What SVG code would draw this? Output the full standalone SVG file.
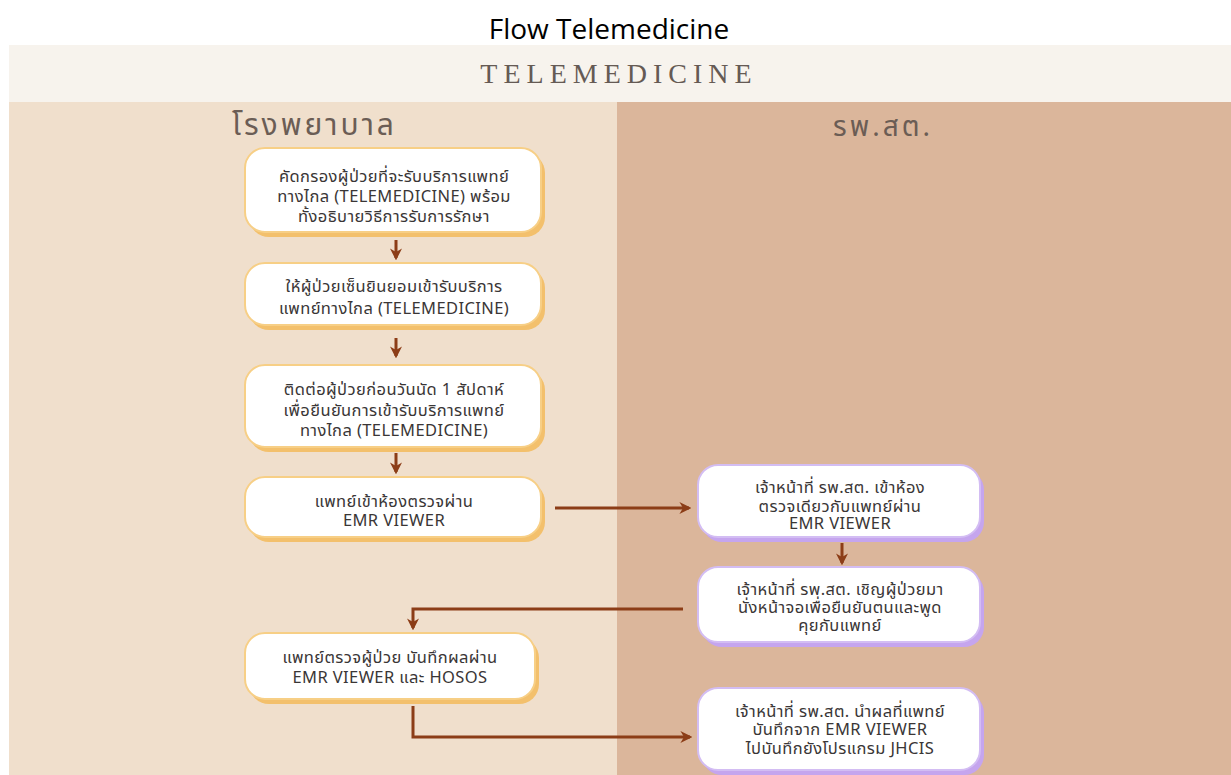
<svg xmlns="http://www.w3.org/2000/svg" width="1231" height="775" viewBox="0 0 1231 775">
<defs>
<style>
.t{font-family:"Noto Sans Thai","Noto Sans","DejaVu Sans",sans-serif;font-size:16.5px;letter-spacing:0.4px;fill:#3a3636;text-anchor:middle}
.h{font-family:"Noto Sans Thai","Noto Sans","DejaVu Sans",sans-serif;fill:#6b5d55;letter-spacing:3px}
.box{fill:#ffffff}
.shL{fill:#f3c06c}
.stL{fill:none;stroke:#f7cf86;stroke-width:2}
.shR{fill:#c5a5ee}
.stR{fill:none;stroke:#d3bdf3;stroke-width:2}
.c{fill:none;stroke:#8c3d17;stroke-width:3}
</style>
<marker id="ah" viewBox="0 0 10 10" refX="8" refY="5" markerWidth="4" markerHeight="4" orient="auto" markerUnits="strokeWidth">
<path d="M0,0 L10,5 L0,10 L3,5 Z" fill="#8c3d17"/>
</marker>
</defs>
<rect width="1231" height="775" fill="#ffffff"/>
<text x="609" y="39" font-family="'Open Sans','Noto Sans',sans-serif" font-size="28" fill="#000" text-anchor="middle">Flow Telemedicine</text>
<rect x="9" y="45" width="1222" height="57" fill="#f7f3ed"/>
<text x="619" y="83" font-family="'Liberation Serif',serif" font-size="28" fill="#655a54" text-anchor="middle" letter-spacing="6">TELEMEDICINE</text>
<rect x="9" y="102" width="608" height="673" fill="#f0dfcc"/>
<rect x="617" y="102" width="614" height="673" fill="#dbb69b"/>
<text class="h" x="232" y="135" font-size="30">โรงพยาบาล</text>
<text class="h" x="883" y="136" font-size="28" text-anchor="middle">รพ.สต.</text>

<g id="n1">
<rect class="shL" x="249" y="153" width="296" height="84" rx="20"/>
<rect class="box" x="245" y="148" width="296" height="84" rx="20"/>
<rect class="stL" x="245" y="148" width="296" height="84" rx="20"/>
<text class="t" x="394" y="182">คัดกรองผู้ป่วยที่จะรับบริการแพทย์</text>
<text class="t" x="394" y="202">ทางไกล (TELEMEDICINE) พร้อม</text>
<text class="t" x="394" y="222">ทั้งอธิบายวิธีการรับการรักษา</text>
</g>
<g id="n2">
<rect class="shL" x="249" y="268" width="296" height="62" rx="20"/>
<rect class="box" x="245" y="263" width="296" height="62" rx="20"/>
<rect class="stL" x="245" y="263" width="296" height="62" rx="20"/>
<text class="t" x="394" y="292">ให้ผู้ป่วยเซ็นยินยอมเข้ารับบริการ</text>
<text class="t" x="394" y="314">แพทย์ทางไกล (TELEMEDICINE)</text>
</g>
<g id="n3">
<rect class="shL" x="249" y="370" width="296" height="82" rx="20"/>
<rect class="box" x="245" y="365" width="296" height="82" rx="20"/>
<rect class="stL" x="245" y="365" width="296" height="82" rx="20"/>
<text class="t" x="394" y="395">ติดต่อผู้ป่วยก่อนวันนัด 1 สัปดาห์</text>
<text class="t" x="394" y="416">เพื่อยืนยันการเข้ารับบริการแพทย์</text>
<text class="t" x="394" y="436">ทางไกล (TELEMEDICINE)</text>
</g>
<g id="n4">
<rect class="shL" x="249" y="482" width="296" height="60" rx="20"/>
<rect class="box" x="245" y="477" width="296" height="60" rx="20"/>
<rect class="stL" x="245" y="477" width="296" height="60" rx="20"/>
<text class="t" x="394" y="507">แพทย์เข้าห้องตรวจผ่าน</text>
<text class="t" x="394" y="526">EMR VIEWER</text>
</g>
<g id="n5">
<rect class="shL" x="249" y="638" width="290" height="66" rx="20"/>
<rect class="box" x="245" y="633" width="290" height="66" rx="20"/>
<rect class="stL" x="245" y="633" width="290" height="66" rx="20"/>
<text class="t" x="390" y="663">แพทย์ตรวจผู้ป่วย บันทึกผลผ่าน</text>
<text class="t" x="390" y="683">EMR VIEWER และ HOSOS</text>
</g>
<g id="n6">
<rect class="shR" x="702" y="470" width="282" height="72" rx="20"/>
<rect class="box" x="698" y="465" width="282" height="72" rx="20"/>
<rect class="stR" x="698" y="465" width="282" height="72" rx="20"/>
<text class="t" x="840" y="493">เจ้าหน้าที่ รพ.สต. เข้าห้อง</text>
<text class="t" x="840" y="512">ตรวจเดียวกับแพทย์ผ่าน</text>
<text class="t" x="840" y="529">EMR VIEWER</text>
</g>
<g id="n7">
<rect class="shR" x="702" y="572" width="282" height="75" rx="20"/>
<rect class="box" x="698" y="567" width="282" height="75" rx="20"/>
<rect class="stR" x="698" y="567" width="282" height="75" rx="20"/>
<text class="t" x="840" y="595">เจ้าหน้าที่ รพ.สต. เชิญผู้ป่วยมา</text>
<text class="t" x="840" y="613">นั่งหน้าจอเพื่อยืนยันตนและพูด</text>
<text class="t" x="840" y="631">คุยกับแพทย์</text>
</g>
<g id="n8">
<rect class="shR" x="702" y="693" width="282" height="82" rx="20"/>
<rect class="box" x="698" y="688" width="282" height="82" rx="20"/>
<rect class="stR" x="698" y="688" width="282" height="82" rx="20"/>
<text class="t" x="840" y="717">เจ้าหน้าที่ รพ.สต. นำผลที่แพทย์</text>
<text class="t" x="840" y="735">บันทึกจาก EMR VIEWER</text>
<text class="t" x="840" y="754">ไปบันทึกยังโปรแกรม JHCIS</text>
</g>

<g id="connectors">
<line class="c" x1="396" y1="240" x2="396" y2="258" marker-end="url(#ah)"/>
<line class="c" x1="396" y1="338" x2="396" y2="356" marker-end="url(#ah)"/>
<line class="c" x1="396" y1="453" x2="396" y2="472" marker-end="url(#ah)"/>
<line class="c" x1="842" y1="543" x2="842" y2="563" marker-end="url(#ah)"/>
<line class="c" x1="555" y1="508" x2="689" y2="508" marker-end="url(#ah)"/>
<polyline class="c" points="683,609 413,609 413,628" marker-end="url(#ah)"/>
<polyline class="c" points="413,706 413,737 690,737" marker-end="url(#ah)"/>
</g>
</svg>
